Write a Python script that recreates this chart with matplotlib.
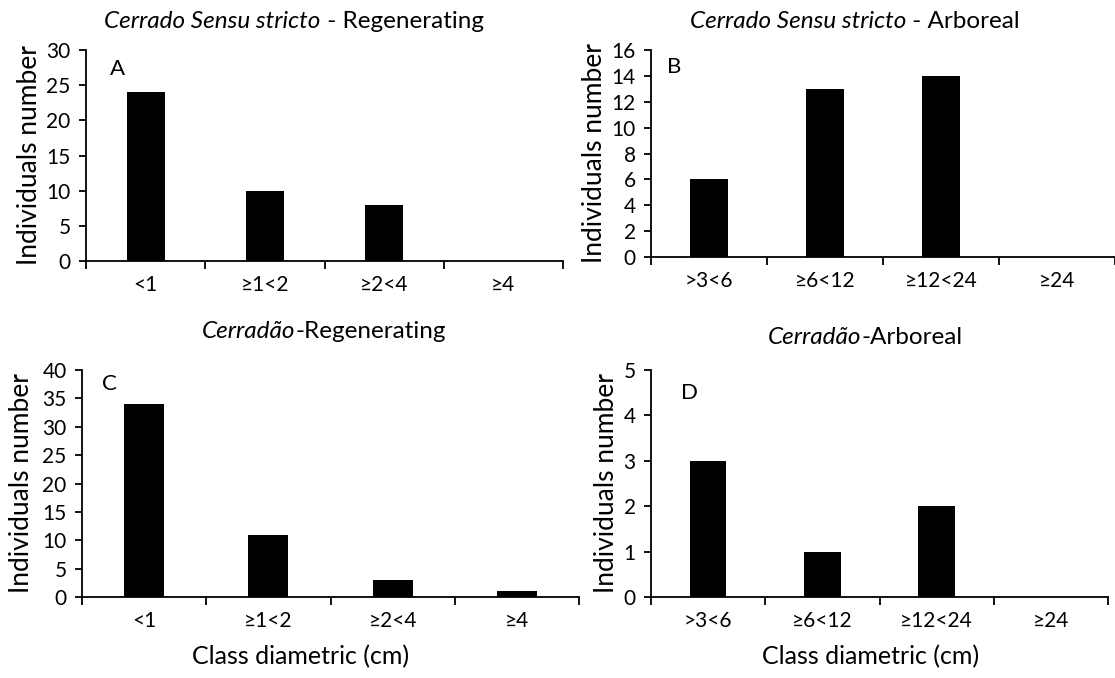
import matplotlib
matplotlib.use('Agg')
import matplotlib.pyplot as plt
from matplotlib.offsetbox import TextArea, HPacker, AnchoredOffsetbox

plt.rcParams['font.family'] = ['Lato', 'DejaVu Sans']

# data
reg_classes = ['<1', '≥1<2', '≥2<4', '≥4']
arb_classes = ['>3<6', '≥6<12', '≥12<24', '≥24']
ss_regen = [24, 10, 8, 0]
ss_arbor = [6, 13, 14, 0]
cd_regen = [34, 11, 3, 1]
cd_arbor = [3, 1, 2, 0]

W, H = 1115, 678
fig = plt.figure(figsize=(W / 100, H / 100), dpi=100)

def box(l, r, t, b):
    return [l / W, 1 - b / H, (r - l) / W, (b - t) / H]

def fpt(px, py):
    return (px / W, 1 - py / H)

panels = [
    (box(86, 563, 50, 261), reg_classes, ss_regen, 30, 5, 'A', (0.065, 0.91), (30, 155), None),
    (box(651, 1115, 50, 257), arb_classes, ss_arbor, 16, 2, 'B', (0.05, 0.92), (594, 153), None),
    (box(82, 579, 370, 597), reg_classes, cd_regen, 40, 5, 'C', (0.056, 0.94), (22, 483), (301, 657)),
    (box(651, 1108, 370, 597), arb_classes, cd_arbor, 5, 1, 'D', (0.085, 0.90), (606, 483), (871, 657)),
]

for rect, cats, vals, ymax, step, letter, lpos, ylpos, xlpos in panels:
    ax = fig.add_axes(rect)
    x = range(len(cats))
    ax.bar(x, vals, width=0.32, color='black')
    ax.set_xlim(-0.5, len(cats) - 0.5)
    ax.set_ylim(0, ymax)
    ax.set_yticks(range(0, ymax + 1, step))
    ax.set_xticks([i - 0.5 for i in range(len(cats) + 1)])
    ax.set_xticklabels([])
    ax.set_xticks(list(x), minor=True)
    ax.set_xticklabels(cats, minor=True, fontsize=15)
    ax.tick_params(axis='x', which='minor', length=0, pad=10)
    ax.tick_params(axis='x', which='major', length=6, width=1.3, direction='out')
    ax.tick_params(axis='y', length=5, width=1.3, labelsize=15, pad=6)
    for s in ['top', 'right']:
        ax.spines[s].set_visible(False)
    for s in ['left', 'bottom']:
        ax.spines[s].set_linewidth(1.3)
    ax.set_ylabel('Individuals number', fontsize=19, va='center')
    ax.yaxis.set_label_coords(*fpt(*ylpos), transform=fig.transFigure)
    ax.text(lpos[0], lpos[1], letter, transform=ax.transAxes, fontsize=16,
            ha='center', va='center')
    if xlpos:
        ax.set_xlabel('Class diametric (cm)', fontsize=18, va='center')
        ax.xaxis.set_label_coords(*fpt(*xlpos), transform=fig.transFigure)

def title(parts, cx, cy):
    areas = [TextArea(t, textprops=dict(fontsize=17.5, fontstyle=st)) for t, st in parts]
    pack = HPacker(children=areas, align='baseline', pad=0, sep=0)
    ab = AnchoredOffsetbox(loc='center', child=pack, frameon=False,
                           bbox_to_anchor=fpt(cx, cy),
                           bbox_transform=fig.transFigure, borderpad=0, pad=0)
    fig.add_artist(ab)

title([('Cerrado Sensu stricto', 'italic'), (' - Regenerating', 'normal')], 294, 21)
title([('Cerrado Sensu stricto', 'italic'), (' - Arboreal', 'normal')], 855, 21)
title([('Cerradão', 'italic'), ('-Regenerating', 'normal')], 324, 331)
title([('Cerradão', 'italic'), ('-Arboreal', 'normal')], 865, 337)

fig.savefig('out.png', dpi=100)
